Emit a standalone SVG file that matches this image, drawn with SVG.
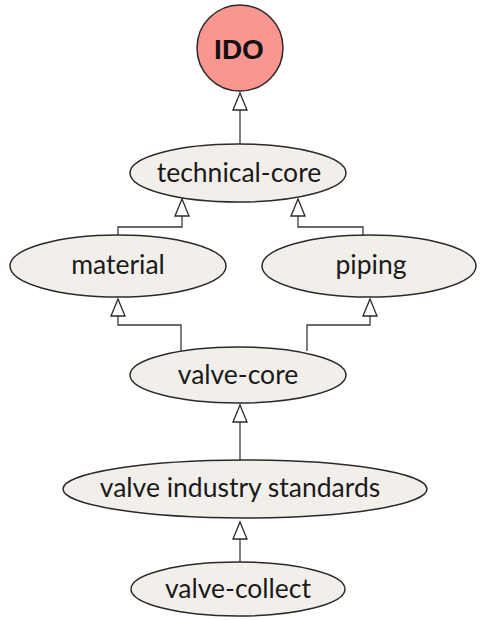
<svg xmlns="http://www.w3.org/2000/svg" width="480" height="620" viewBox="0 0 480 620">
  <defs>
    <style>
      .node { fill: #f2efeb; stroke: #2a2a2a; stroke-width: 1.5; }
      .root { fill: #f8968f; stroke: #2a2a2a; stroke-width: 1.5; }
      .label { font-family: Lato, "Liberation Sans", sans-serif; font-size: 26.5px; fill: #1a1a1a; text-anchor: middle; }
      .rootlabel { font-family: "Liberation Sans", Arial, sans-serif; font-size: 28px; font-weight: bold; fill: #111; text-anchor: middle; }
      .edge { fill: none; stroke: #3a3a3a; stroke-width: 1.3; marker-end: url(#hollow); }
    </style>
    <marker id="hollow" markerUnits="userSpaceOnUse" markerWidth="20" markerHeight="16" viewBox="0 0 20 16" refX="18" refY="8" orient="auto">
      <path d="M1,1 L18,8 L1,15 Z" fill="#fff" stroke="#2a2a2a" stroke-width="1.3"/>
    </marker>
  </defs>

  <g id="connectors">
    <path class="edge" d="M240,144 V93"/>
    <path class="edge" d="M118,235 V227 H182 V199"/>
    <path class="edge" d="M363,236 V227 H298 V199"/>
    <path class="edge" d="M181,351 V325 H118 V299"/>
    <path class="edge" d="M307,351 V325 H370 V299"/>
    <path class="edge" d="M240,460 V405"/>
    <path class="edge" d="M240,562 V522"/>
  </g>

  <g id="IDO">
    <circle class="root" cx="240" cy="48" r="43"/>
    <text class="rootlabel" x="239" y="59">IDO</text>
  </g>
  <g id="technical-core">
    <ellipse class="node" cx="238" cy="173" rx="108" ry="29"/>
    <text class="label" x="239" y="182">technical-core</text>
  </g>
  <g id="material">
    <ellipse class="node" cx="118" cy="266" rx="108" ry="31"/>
    <text class="label" x="118" y="274">material</text>
  </g>
  <g id="piping">
    <ellipse class="node" cx="369" cy="266" rx="107" ry="31"/>
    <text class="label" x="371" y="274">piping</text>
  </g>
  <g id="valve-core">
    <ellipse class="node" cx="238" cy="375" rx="108" ry="28"/>
    <text class="label" x="238" y="384">valve-core</text>
  </g>
  <g id="valve-industry-standards">
    <ellipse class="node" cx="245" cy="489" rx="182" ry="29"/>
    <text class="label" x="240" y="497">valve industry standards</text>
  </g>
  <g id="valve-collect">
    <ellipse class="node" cx="238" cy="589" rx="107" ry="27"/>
    <text class="label" x="238" y="598">valve-collect</text>
  </g>
</svg>
